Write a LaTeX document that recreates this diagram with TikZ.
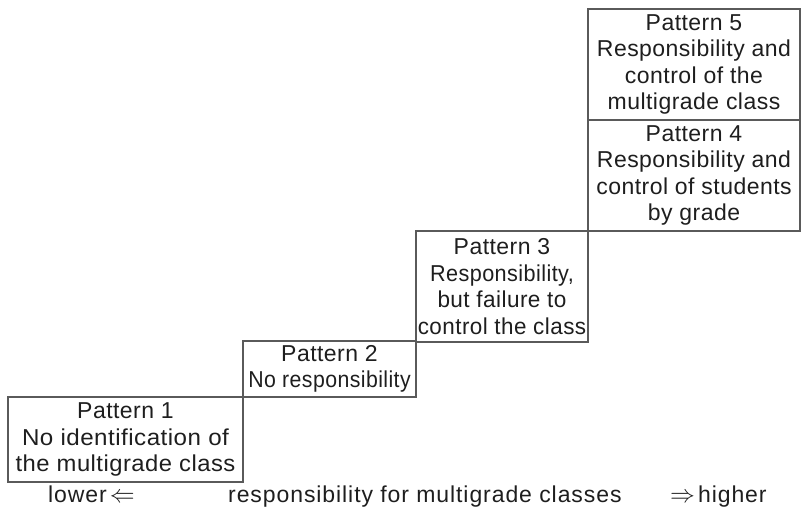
\documentclass[tikz,border=0pt]{standalone}
\usepackage{fontspec}
\setmainfont[LetterSpace=2]{Liberation Sans}
\definecolor{txt}{HTML}{1E1E1E}
\definecolor{ln}{HTML}{5A5A5A}
\newcommand\hsq[2]{\scalebox{#1}[1]{#2}}
\tikzset{
  pbox/.style={draw=ln, line width=1.1pt, text=txt, align=center, inner xsep=-4pt, inner ysep=0pt,
    font=\fontsize{23}{26.5}\selectfont, anchor=center},
  lab/.style={text=txt, inner sep=0pt, anchor=base west,
    font=\fontsize{23}{26.5}\selectfont\addfontfeatures{LetterSpace=4}}
}
\begin{document}
\begin{tikzpicture}[x=1pt,y=1pt]
\useasboundingbox (0,0) rectangle (801,510);
\node[pbox, minimum width=235pt, minimum height=85pt] (p1) at (125.5,70.5)
  {Pattern 1\\\hsq{1.05}{No identification of}\\\hsq{1.035}{the multigrade class}};
\node[pbox, minimum width=173pt, minimum height=56pt] (p2) at (329.5,141)
  {Pattern 2\\\hsq{0.925}{No responsibility}};
\node[pbox, minimum width=172pt, minimum height=111pt] (p3) at (502,223.5)
  {Pattern 3\\\hsq{0.94}{Responsibility,}\\\hsq{0.98}{but failure to}\\\hsq{0.975}{control the class}};
\node[pbox, minimum width=212pt, minimum height=111pt] (p4) at (694,334.5)
  {Pattern 4\\Responsibility and\\control of students\\by grade};
\node[pbox, minimum width=212pt, minimum height=111pt] (p5) at (694,445.5)
  {Pattern 5\\Responsibility and\\control of the\\multigrade class};
\node[lab] (lo) at (48,7) {lower\hspace{3pt}$\Leftarrow$};
\node[lab] (mid) at (228,7) {responsibility for multigrade classes};
\node[lab] (hi) at (670,7) {$\Rightarrow$\hspace{3pt}higher};
\end{tikzpicture}
\end{document}
